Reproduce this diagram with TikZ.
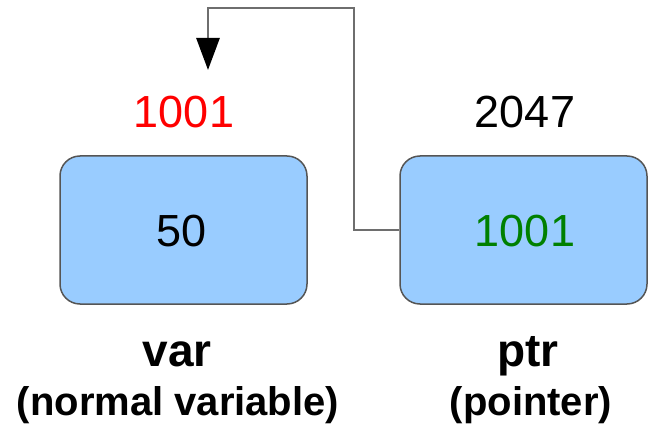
\documentclass[tikz,border=0pt]{standalone}
\usepackage{fontspec}
\setmainfont{Liberation Sans}
\usetikzlibrary{arrows.meta}
\definecolor{boxblue}{HTML}{99CCFF}
\definecolor{boxedge}{HTML}{555555}
\definecolor{linkgray}{HTML}{6E6E6E}
\definecolor{valgreen}{HTML}{008000}
\begin{document}
\begin{tikzpicture}[x=1pt,y=-1pt,
  membox/.style={draw=boxedge, line width=1.5pt, fill=boxblue, rounded corners=20pt,
    minimum width=247pt, minimum height=148pt, inner sep=0pt},
  num/.style={font=\fontsize{45}{50}\selectfont, anchor=base, inner sep=0pt},
  vname/.style={font=\fontsize{46}{50}\selectfont\bfseries, anchor=base, inner sep=0pt},
  vsub/.style={font=\fontsize{40}{44}\selectfont\bfseries, anchor=base, inner sep=0pt},
  link/.style={draw=linkgray, line width=2.8pt}]
\useasboundingbox (0,0) rectangle (651,425);
\node[membox] (varbox) at (183.5,230) {};
\node[membox] (ptrbox) at (523.5,230) {};
\node[num] (varval) at (182,247) {50};
\node[num, text=valgreen] (ptrval) at (525,247) {1001};
\node[num, text=red] (varaddr) at (184,128) {1001};
\node[num] (ptraddr) at (525,128) {2047};
\node[vname] (varname) at (177,366) {var};
\node[vsub] (varsub) at (178,415) {(normal variable)};
\node[vname] (ptrname) at (528,366) {ptr};
\node[vsub] (ptrsub) at (531,415) {(pointer)};
\coordinate (corner) at (354,8);
\coordinate (tip) at (208,70);
\draw[link, -{Triangle[length=32pt,width=23pt,color=black]}] (ptrbox.west) -| (corner) -| (tip);
\end{tikzpicture}
\end{document}
